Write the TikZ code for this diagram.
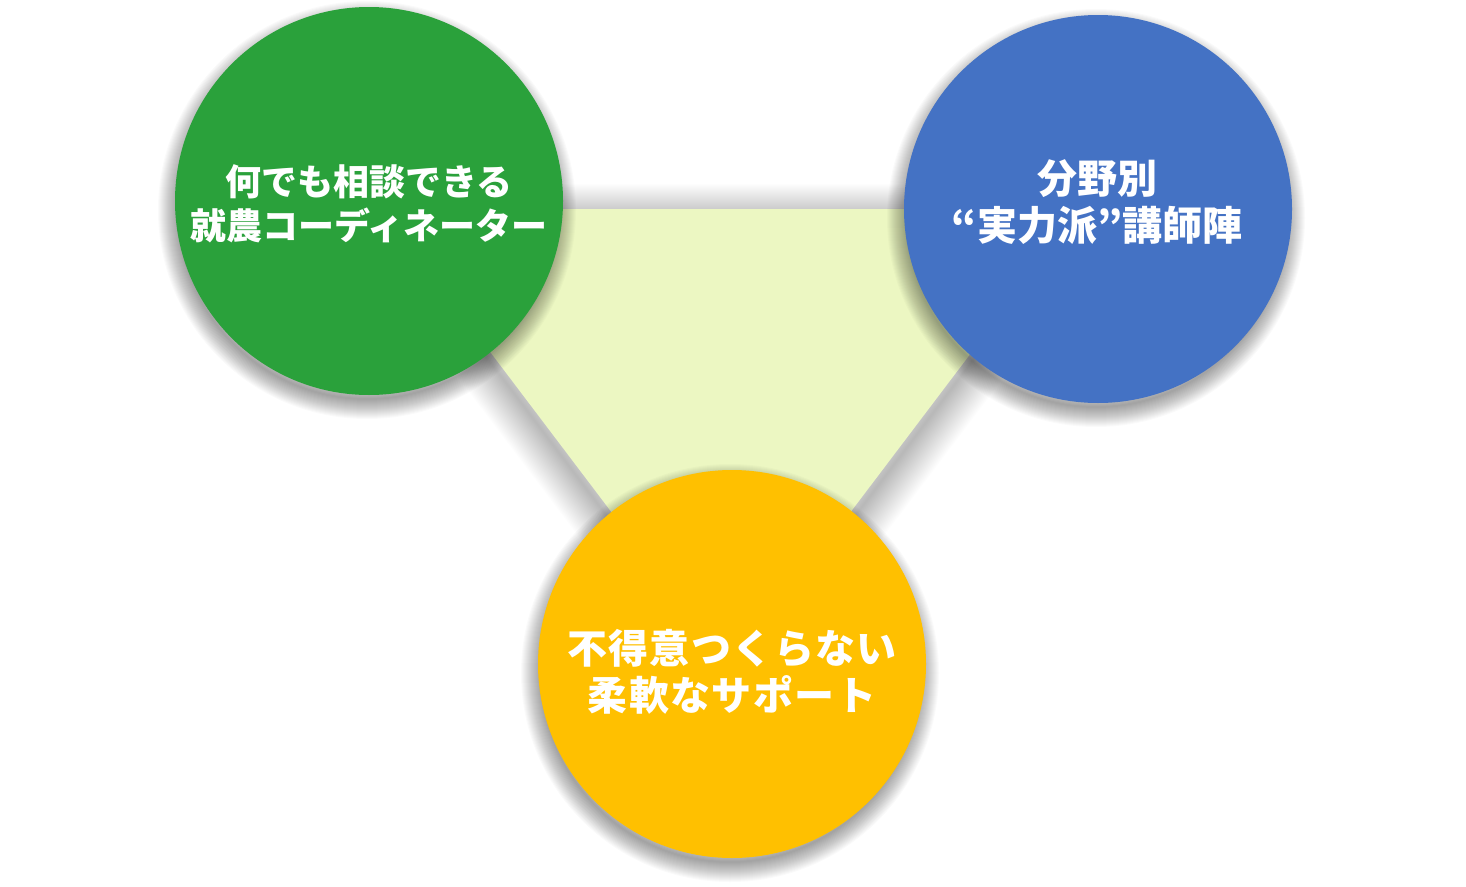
\documentclass[tikz,border=0pt]{standalone}
\usepackage{fontspec}
\newfontfamily\jp{Noto Sans CJK JP}
\newfontfamily\jpwide{Noto Sans CJK JP}[LetterSpace=3.5]
\usetikzlibrary{calc}
\definecolor{cgreen}{RGB}{42,161,59}
\definecolor{cblue}{RGB}{68,114,196}
\definecolor{cyellow}{RGB}{255,192,0}
\definecolor{ctri}{RGB}{236,247,194}
\tikzset{
  bubble/.style={circle, inner sep=0pt, minimum size=388pt},
  label36/.style={text=white, align=center, inner sep=0pt, font=\jp\bfseries\fontsize{36}{44}\selectfont},
  label40/.style={text=white, align=center, inner sep=0pt, font=\jp\bfseries\fontsize{40}{47}\selectfont},
  label40w/.style={text=white, align=center, inner sep=0pt, font=\jpwide\bfseries\fontsize{40}{47}\selectfont},
  shadowring/.style={black, draw opacity=0.018},
  trishadow/.style={black, draw opacity=0.0095, line join=round}
}
\begin{document}
\begin{tikzpicture}[x=1pt,y=-1pt]
\useasboundingbox (0,0) rectangle (1466,886);
\fill[white] (0,0) rectangle (1466,886);
% centres
\coordinate (gc) at (369,201);
\coordinate (bc) at (1098,209);
\coordinate (yc) at (732,664);
\coordinate (tl) at (382,209);
\coordinate (tr) at (1080,209);
\coordinate (tb) at (731,670);
% triangle shadow
\foreach \w in {2,4,...,70}
  \draw[trishadow, line width=\w pt] ($(tl)+(0,10)$) -- ($(tr)+(0,10)$) -- ($(tb)+(0,10)$) -- cycle;
% triangle
\fill[ctri] (tl) -- (tr) -- (tb) -- cycle;
% circle shadows
\foreach \c in {gc,bc,yc}
  \foreach \w in {2,4,...,40}
    \draw[shadowring, line width=\w pt] ($(\c)+(-2,9)$) circle[radius=189];
% circles
\node[bubble, fill=cgreen] (g) at (gc) {};
\node[bubble, fill=cblue] (b) at (bc) {};
\node[bubble, fill=cyellow] (y) at (yc) {};
% texts
\node[label36] (gt) at (369,203.5) {何でも相談できる\\就農コーディネーター};
\node[label40] (bt) at (1097,202.5) {分野別\\“実力派”講師陣};
\node[label40w] (yt) at (732,672) {不得意つくらない\\柔軟なサポート};
\end{tikzpicture}
\end{document}
